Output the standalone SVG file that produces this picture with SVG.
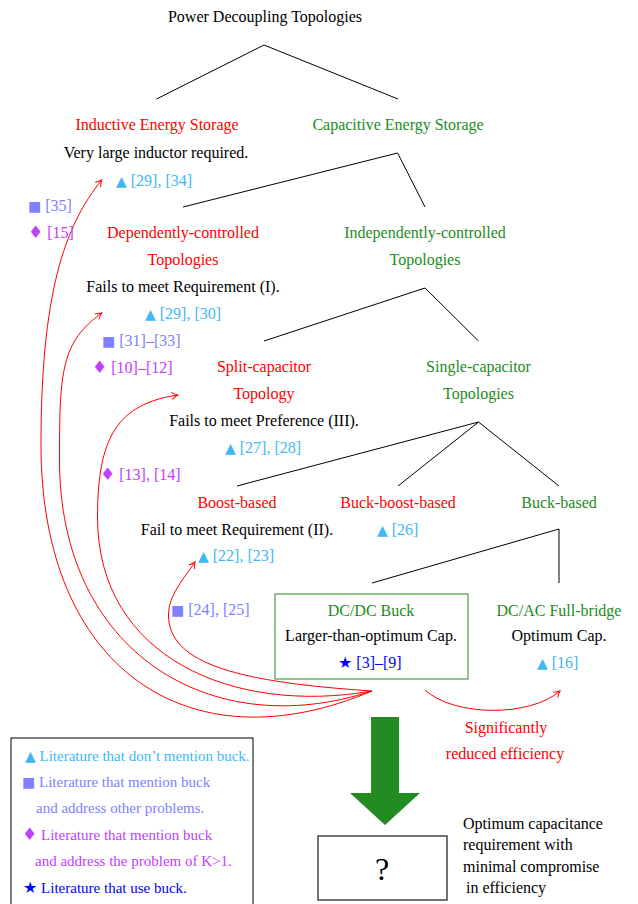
<svg xmlns="http://www.w3.org/2000/svg" width="638" height="904" viewBox="0 0 638 904">
<defs>
<style>
text{font-family:"Liberation Serif","Times New Roman",serif;font-size:16px;}
.c{text-anchor:middle;}
.red{fill:#ff0000;}
.grn{fill:#228b22;}
.blk{fill:#000;}
.cy{fill:#3db8f5;}
.sq{fill:#8080ff;}
.dm{fill:#bf40ff;}
.st{fill:#0000ff;}
.sym{font-family:"DejaVu Sans",sans-serif;font-size:14px;}
.dia{font-family:"DejaVu Sans",sans-serif;font-size:17px;}
.star{font-family:"DejaVu Sans",sans-serif;font-size:16px;}
.lg{font-size:15px;}
.tree{stroke:#000;stroke-width:1;fill:none;}
.cur{stroke:#ff0000;stroke-width:1;fill:none;marker-end:url(#ah);}
</style>
<marker id="ah" viewBox="-8 -5 10 10" refX="0" refY="0" markerWidth="10" markerHeight="10" markerUnits="userSpaceOnUse" orient="auto">
<path d="M-6,-3.5 Q-2.5,-0.8 0,0 Q-2.5,0.8 -6,3.5" fill="none" stroke="#ff0000" stroke-width="1"/>
</marker>
</defs>
<rect width="638" height="904" fill="#fff"/>

<g id="connectors">
<path class="tree" d="M156.5,99 L264,45 L398,99"/>
<path class="tree" d="M183,207 L397.6,153 L425,207"/>
<path class="tree" d="M264,341 L425,288 L478.5,341"/>
<path class="tree" d="M237,486 L478.5,422 L398,486 M478.5,422 L559,486"/>
<path class="tree" d="M372,583 L559,529 L559,583"/>
<path class="cur" d="M372,691 C188,769 41,668 41,445 C41,295 63.9,226.6 101.7,180"/>
<path class="cur" d="M372,691 C210.5,744 59.5,652 59.5,460 C59.5,370 61.35,342.6 101.7,313"/>
<path class="cur" d="M372,691 C234,715 97.5,658 97.5,517 C97.5,437 117.7,404 177.7,395"/>
<path class="cur" d="M372,691 C242,682.3 168.5,665 168.5,615 C168.5,595 184,578.6 195,562"/>
<path class="cur" d="M425,690 C455,717 530,717 560,691"/>
</g>

<g id="root"><text class="c blk" x="265" y="22">Power Decoupling Topologies</text></g>

<g id="inductive">
<text class="c red" x="157" y="130">Inductive Energy Storage</text>
<text class="c blk" x="156" y="158">Very large inductor required.</text>
<text class="cy" x="116" y="186"><tspan class="sym">▲</tspan> [29], [34]</text>
<text class="sq" x="28" y="211"><tspan class="sym">■</tspan> [35]</text>
<text class="dm" x="28" y="238"><tspan class="dia">♦</tspan> [15]</text>
</g>

<g id="capacitive"><text class="c grn" x="398" y="130">Capacitive Energy Storage</text></g>

<g id="dependent">
<text class="c red" x="183" y="238">Dependently-controlled</text>
<text class="c red" x="183" y="265">Topologies</text>
<text class="c blk" x="183" y="292">Fails to meet Requirement (I).</text>
<text class="cy" x="145" y="319"><tspan class="sym">▲</tspan> [29], [30]</text>
<text class="sq" x="102" y="346"><tspan class="sym">■</tspan> [31]–[33]</text>
<text class="dm" x="92" y="373"><tspan class="dia">♦</tspan> [10]–[12]</text>
</g>

<g id="independent">
<text class="c grn" x="425" y="238">Independently-controlled</text>
<text class="c grn" x="425" y="265">Topologies</text>
</g>

<g id="split">
<text class="c red" x="264" y="372">Split-capacitor</text>
<text class="c red" x="264" y="399">Topology</text>
<text class="c blk" x="264" y="426">Fails to meet Preference (III).</text>
<text class="cy" x="225" y="453"><tspan class="sym">▲</tspan> [27], [28]</text>
<text class="dm" x="100" y="480"><tspan class="dia">♦</tspan> [13], [14]</text>
</g>

<g id="single">
<text class="c grn" x="478.5" y="372">Single-capacitor</text>
<text class="c grn" x="478.5" y="399">Topologies</text>
</g>

<g id="boost">
<text class="c red" x="237" y="508">Boost-based</text>
<text class="c blk" x="237" y="535">Fail to meet Requirement (II).</text>
<text class="cy" x="198" y="561"><tspan class="sym">▲</tspan> [22], [23]</text>
<text class="sq" x="171" y="615"><tspan class="sym">■</tspan> [24], [25]</text>
</g>

<g id="buckboost">
<text class="c red" x="398" y="508">Buck-boost-based</text>
<text class="cy" x="377" y="535"><tspan class="sym">▲</tspan> [26]</text>
</g>

<g id="buck"><text class="c grn" x="559" y="508">Buck-based</text></g>

<g id="dcdc">
<rect x="275" y="594" width="193" height="85" fill="none" stroke="#55a355" stroke-width="1.3"/>
<text class="c grn" x="371" y="616">DC/DC Buck</text>
<text class="c blk" x="371" y="641">Larger-than-optimum Cap.</text>
<text class="st" x="338" y="668"><tspan class="star">★</tspan> [3]–[9]</text>
</g>

<g id="dcac">
<text class="c grn" x="559" y="616">DC/AC Full-bridge</text>
<text class="c blk" x="559" y="641">Optimum Cap.</text>
<text class="cy" x="537" y="668"><tspan class="sym">▲</tspan> [16]</text>
</g>

<g id="efficiency-note">
<text class="c red" x="506" y="733">Significantly</text>
<text class="c red" x="505" y="759">reduced efficiency</text>
</g>

<g id="big-arrow">
<polygon points="371,717 399,717 399,793 420,793 385,825 350,793 371,793" fill="#228b22"/>
</g>

<g id="question">
<rect x="318" y="836" width="129" height="64" fill="none" stroke="#444" stroke-width="1.5"/>
<text class="c blk" x="382" y="880" style="font-size:32px">?</text>
</g>

<g id="goal">
<text class="blk" x="463" y="829">Optimum capacitance</text>
<text class="blk" x="463" y="850">requirement with</text>
<text class="blk" x="463" y="872">minimal compromise</text>
<text class="blk" x="466" y="893">in efficiency</text>
</g>

<g id="legend">
<rect x="11" y="738" width="242" height="180" fill="none" stroke="#000" stroke-width="1"/>
<text class="cy lg" x="25" y="761"><tspan class="sym">▲</tspan> Literature that don’t mention buck.</text>
<text class="sq lg" x="22" y="787"><tspan class="sym">■</tspan> Literature that mention buck</text>
<text class="sq lg" x="36" y="813">and address other problems.</text>
<text class="dm lg" x="22" y="840"><tspan class="dia">♦</tspan> Literature that mention buck</text>
<text class="dm lg" x="35" y="866">and address the problem of K&gt;1.</text>
<text class="st lg" x="23" y="893"><tspan class="star">★</tspan> Literature that use buck.</text>
</g>
</svg>
